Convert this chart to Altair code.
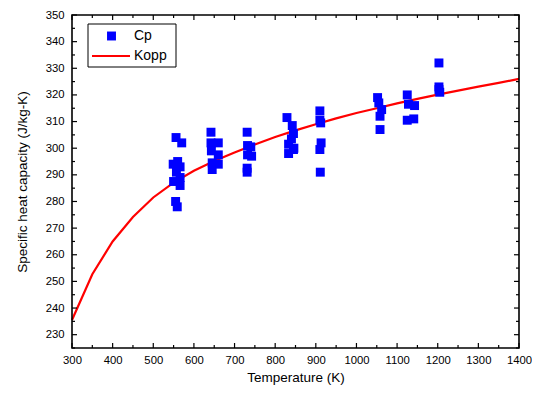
import altair as alt
import pandas as pd

# Measured Cp points (temperature K, J/kg-K)
cp_temp = [556, 570, 560, 549, 566, 557, 566, 550, 566, 555, 559,
           642, 642, 660, 643, 660, 645, 660, 645,
           731, 732, 740, 732, 742, 731, 731,
           829, 842, 845, 840, 833, 846, 833, 845,
           910, 910, 912, 913, 910, 911,
           1052, 1055, 1062, 1058, 1058,
           1125, 1128, 1143, 1141, 1125,
           1203, 1203, 1205, 1203]
cp_value = [304, 302, 295, 294, 293, 291, 289, 287.5, 286, 280, 278,
            306, 302, 302, 299, 297.5, 294.5, 294, 292,
            306, 301, 300.5, 297.5, 297, 292.5, 291,
            311.5, 308.5, 305.5, 303.5, 301.5, 300, 298, 299.5,
            314, 310.5, 309.5, 302, 299.5, 291,
            319, 317, 314.5, 312, 307,
            320, 316.5, 316, 311, 310.5,
            332, 323, 321, 322]

# Kopp law curve
kopp_temp = [300, 350, 400, 450, 500, 550, 600, 650, 700, 750, 800, 850,
             900, 950, 1000, 1050, 1100, 1150, 1200, 1250, 1300, 1350, 1400]
kopp_value = [235.5, 252.7, 265.0, 274.2, 281.5, 287.1, 291.5, 295.2, 298.4,
              301.4, 304.2, 306.7, 309.0, 311.2, 313.2, 315.0, 316.8, 318.5,
              320.1, 321.6, 323.1, 324.5, 326.0]

x_major = list(range(300, 1401, 100))
x_minor = list(range(350, 1400, 100))
y_major = list(range(230, 351, 10))
y_minor = list(range(225, 350, 10))

X0, X1 = 300, 1400
Y0, Y1 = 225, 350
W, H = 447, 333
FONT = "Liberation Sans"

xs = alt.Scale(domain=[X0, X1], nice=False, zero=False)
ys = alt.Scale(domain=[Y0, Y1], nice=False, zero=False)

cp_df = pd.DataFrame({"T": cp_temp, "Cp": cp_value})
kopp_df = pd.DataFrame({"T": kopp_temp, "Kopp": kopp_value})

# inward tick segments (lengths converted from pixels to data units)
px_x = (X1 - X0) / W
px_y = (Y1 - Y0) / H
segs = []
for vals, L in ((x_major, 5), (x_minor, 3)):
    for v in vals:
        segs.append((v, Y0, v, Y0 + L * px_y))
        segs.append((v, Y1, v, Y1 - L * px_y))
for vals, L in ((y_major, 5), (y_minor, 3)):
    for v in vals:
        segs.append((X0, v, X0 + L * px_x, v))
        segs.append((X1, v, X1 - L * px_x, v))
tick_df = pd.DataFrame(segs, columns=["xa", "ya", "xb", "yb"])

xaxis = alt.Axis(values=x_major, ticks=False, labelPadding=6, labelFontSize=11.3,
                 labelFont=FONT, labelColor="black", format="d", labelOverlap=False,
                 labelFlush=False, title="Temperature (K)",
                 titleFont=FONT, titleFontSize=13.5, titleFontWeight="normal",
                 titlePadding=5, titleColor="black", grid=False, domain=False)
yaxis = alt.Axis(values=y_major, ticks=False, labelPadding=8, labelFontSize=11.3,
                 labelFont=FONT, labelColor="black", format="d", labelOverlap=False,
                 labelFlush=False,
                 title="Specific heat capacity (J/kg-K)",
                 titleFont=FONT, titleFontSize=13.5, titleFontWeight="normal",
                 titlePadding=16, titleColor="black", grid=False, domain=False)

line = alt.Chart(kopp_df).mark_line(color="#FF0000", strokeWidth=2.2).encode(
    x=alt.X("T:Q", scale=xs, axis=xaxis),
    y=alt.Y("Kopp:Q", scale=ys, axis=yaxis),
)

points = alt.Chart(cp_df).mark_square(color="#0000FF", size=80, opacity=1).encode(
    x=alt.X("T:Q", scale=xs, axis=xaxis),
    y=alt.Y("Cp:Q", scale=ys, axis=yaxis),
)

ticks = alt.Chart(tick_df).mark_rule(color="black", strokeWidth=1.2).encode(
    x=alt.X("xa:Q", scale=xs, axis=xaxis), x2="xb:Q",
    y=alt.Y("ya:Q", scale=ys, axis=yaxis), y2="yb:Q",
)

one = pd.DataFrame({"k": [0]})
frame = alt.Chart(one).mark_rect(fill="transparent", stroke="black", strokeWidth=1.6).encode(
    x=alt.value(0), x2=alt.value(W), y=alt.value(0), y2=alt.value(H))

# Legend (drawn manually)
leg_box = alt.Chart(one).mark_rect(fill="white", stroke="black", strokeWidth=1).encode(
    x=alt.value(16), x2=alt.value(104), y=alt.value(9), y2=alt.value(52))
leg_sq = alt.Chart(one).mark_square(color="#0000FF", size=80, opacity=1).encode(
    x=alt.value(39.5), y=alt.value(21))
leg_line = alt.Chart(one).mark_rule(color="#FF0000", strokeWidth=2.2).encode(
    x=alt.value(20), x2=alt.value(58), y=alt.value(41))
leg_t1 = alt.Chart(one).mark_text(align="left", baseline="middle", font=FONT,
                                  fontSize=14, color="black", text="Cp").encode(
    x=alt.value(62), y=alt.value(21))
leg_t2 = alt.Chart(one).mark_text(align="left", baseline="middle", font=FONT,
                                  fontSize=14, color="black", text="Kopp").encode(
    x=alt.value(62), y=alt.value(41))

chart = alt.layer(
    line, points, ticks, frame, leg_box, leg_sq, leg_line, leg_t1, leg_t2
).properties(
    width=W, height=H,
    background="white",
    autosize=alt.AutoSizeParams(type="none"),
    padding={"left": 64, "top": 7, "right": 13, "bottom": 38},
).configure_view(
    stroke=None
)

chart.save("out.html", embed_options={"renderer": "svg", "actions": False})
